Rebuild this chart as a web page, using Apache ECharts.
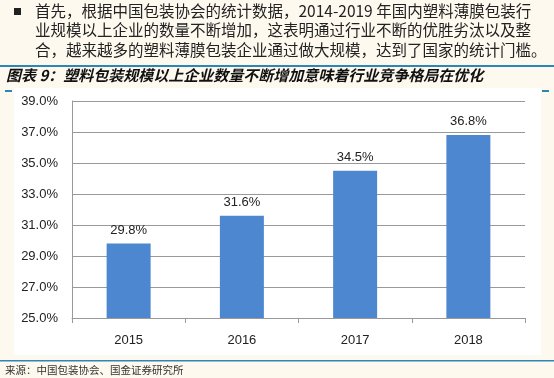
<!DOCTYPE html>
<html>
<head>
<meta charset="utf-8">
<script src="https://cdn.jsdelivr.net/npm/echarts@6/dist/echarts.min.js"></script>
<style>
  html, body { margin: 0; padding: 0; background: #fdf9ee; }
  #chart { width: 554px; height: 378px; }
</style>
</head>
<body>
<div id="chart"></div>
<script>
const years = ['2015', '2016', '2017', '2018'];
const shares = [29.8, 31.6, 34.5, 36.8];
const paragraph = [
  '首先，根据中国包装协会的统计数据，2014-2019 年国内塑料薄膜包装行',
  '业规模以上企业的数量不断增加，这表明通过行业不断的优胜劣汰以及整',
  '合，越来越多的塑料薄膜包装企业通过做大规模，达到了国家的统计门槛。'
];
const chartTitle = '图表 9：塑料包装规模以上企业数量不断增加意味着行业竞争格局在优化';
const sourceNote = '来源：中国包装协会、国金证券研究所';

const cjk = '"Noto Sans CJK SC", sans-serif';
const textColor = '#222';

const myChart = echarts.init(document.getElementById('chart'));

const graphics = [
  // white chart panel
  { type: 'rect', z: -10, shape: { x: 14, y: 88, width: 527, height: 267 }, style: { fill: '#ffffff' } },
  // bullet
  { type: 'rect', shape: { x: 14, y: 8, width: 7, height: 7 }, style: { fill: '#222' } },
  // blue rules
  { type: 'rect', shape: { x: 0, y: 65, width: 554, height: 2 }, style: { fill: '#2c86b8' } },
  { type: 'rect', shape: { x: 0, y: 360, width: 554, height: 1.5 }, style: { fill: '#2c86b8' } },
  // small corner marks
  { type: 'rect', shape: { x: 5, y: 90, width: 7, height: 2 }, style: { fill: '#2c86b8' } },
  { type: 'rect', shape: { x: 542, y: 90, width: 7, height: 2 }, style: { fill: '#2c86b8' } },
  {
    type: 'text', left: 6, top: 68,
    style: { text: chartTitle, font: 'italic bold 15px ' + cjk, fill: '#111' }
  },
  {
    type: 'text', left: 5, top: 365,
    style: { text: sourceNote, font: '10.5px ' + cjk, fill: '#333' }
  }
];
paragraph.forEach((line, i) => {
  graphics.push({
    type: 'text', left: 35, top: 3 + i * 19.5,
    style: { text: line, font: '15.5px ' + cjk, fill: textColor }
  });
});

const option = {
  backgroundColor: '#fdf9ee',
  animation: false,
  graphic: graphics,
  grid: { left: 72, right: 29, top: 101, bottom: 60 },
  xAxis: {
    type: 'category',
    data: years,
    axisLine: { lineStyle: { color: '#999', width: 1 } },
    axisTick: { show: true, length: 5, lineStyle: { color: '#999' } },
    axisLabel: { color: textColor, fontSize: 13, fontFamily: 'Liberation Sans', margin: 16 }
  },
  yAxis: {
    type: 'value',
    min: 25,
    max: 39,
    interval: 2,
    axisLine: { show: true, lineStyle: { color: '#999' } },
    axisTick: { show: false },
    splitLine: { lineStyle: { color: '#999', width: 1 } },
    axisLabel: {
      color: textColor, fontSize: 13, fontFamily: 'Liberation Sans', margin: 14,
      formatter: v => v.toFixed(1) + '%'
    }
  },
  series: [{
    type: 'bar',
    data: shares,
    barWidth: 44,
    itemStyle: { color: '#4d87d0' },
    label: {
      show: true,
      position: 'top',
      distance: 7,
      color: textColor,
      fontSize: 13,
      fontFamily: 'Liberation Sans',
      formatter: p => p.value.toFixed(1) + '%'
    }
  }]
};

myChart.setOption(option);
</script>
</body>
</html>
